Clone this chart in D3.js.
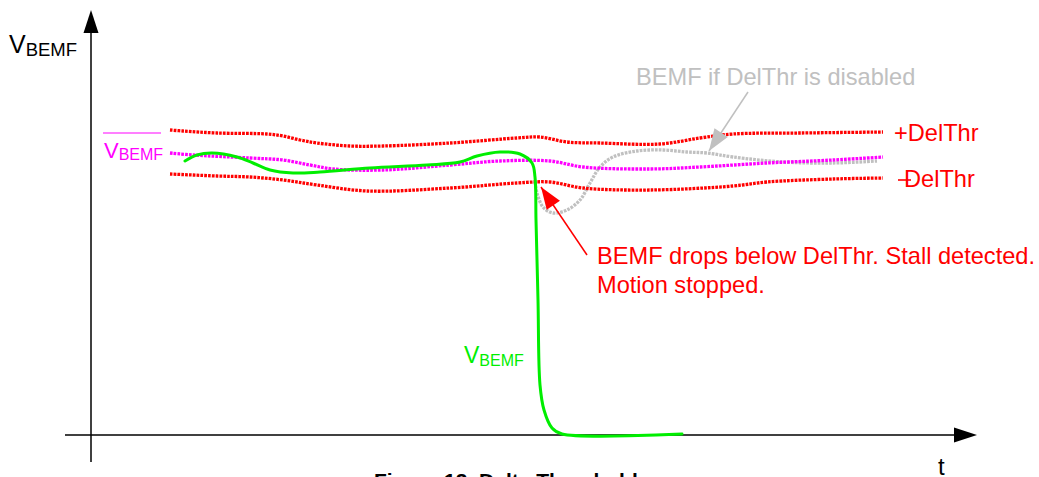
<!DOCTYPE html>
<html>
<head>
<meta charset="utf-8">
<script src="https://cdn.jsdelivr.net/npm/d3@7"></script>
<style>
  html, body { margin: 0; padding: 0; background: #fff; }
  svg { display: block; font-family: "Liberation Sans", Arial, Helvetica, sans-serif; }
</style>
</head>
<body>
<div id="chart"></div>
<script>
// Values are in diagram units: t = time, v = voltage (0 at the t axis).
const plusThr = [
  [79, 305], [92, 304], [126, 302], [176, 301], [192, 299], [209, 295], [226, 292],
  [259, 289], [292, 289], [359, 292], [426, 297], [449, 298], [476, 293], [509, 292],
  [569, 291], [609, 297], [642, 301], [709, 302], [792, 303]
];
const meanBemf = [
  [79, 282], [102, 280], [159, 277], [192, 275], [219, 270], [242, 266], [292, 265],
  [359, 270], [409, 274], [459, 274], [492, 268], [559, 266], [609, 268], [676, 272],
  [742, 275], [792, 278]
];
const minusThr = [
  [79, 261], [126, 259], [159, 258], [192, 255], [226, 250], [276, 244], [359, 247],
  [426, 252], [459, 253], [492, 247], [559, 245], [642, 249], [676, 253], [742, 256],
  [792, 257]
];
const bemf = [
  [94, 274], [106, 280], [121, 282], [146, 278], [162, 272], [179, 265], [202, 262],
  [229, 263], [279, 267], [336, 270], [369, 273], [386, 279], [409, 283], [429, 281],
  [441, 272], [444, 258], [445, 215], [447, 135], [449, 50], [453, 25], [461, 7],
  [471, 1], [591, 1]
];
const bemfDisabled = [
  [444, 253], [446, 242], [452, 228], [462, 222], [476, 225], [489, 235], [499, 252],
  [509, 268], [522, 278], [546, 284], [572, 285], [596, 283], [616, 282], [642, 278],
  [692, 273], [742, 272], [786, 274]
];
const stallArrow = { from: [496, 180], to: [450, 248] };
const disabledArrow = { from: [657, 343], to: [618, 284] };
const stallText = ["BEMF drops below DelThr. Stall detected.", "Motion stopped."];

const COLORS = {
  thr: "#ff0000",
  mean: "#ff00ff",
  bemf: "#00ee00",
  gray: "#c0c0c0",
  axis: "#000000",
};

const W = 1039, H = 477;

const x = d3.scaleLinear().domain([0, 880]).range([91, 971]);
const y = d3.scaleLinear().domain([0, 300]).range([435, 135]);

const svg = d3.select("#chart").append("svg")
  .attr("width", W).attr("height", H)
  .attr("viewBox", `0 0 ${W} ${H}`);

function arrowHead(g, from, to, len, half, color) {
  const [x1, y1] = from, [x2, y2] = to;
  const a = Math.atan2(y2 - y1, x2 - x1);
  const bx = x2 - len * Math.cos(a), by = y2 - len * Math.sin(a);
  const px = -Math.sin(a) * half, py = Math.cos(a) * half;
  g.append("path")
    .attr("d", `M${x2},${y2}L${bx + px},${by + py}L${bx - px},${by - py}Z`)
    .attr("fill", color);
}

// —— Axes ——
const axes = svg.append("g").attr("class", "axes");
axes.append("line")
  .attr("x1", x(0)).attr("x2", x(0))
  .attr("y1", y(-27)).attr("y2", y(402))
  .attr("stroke", COLORS.axis).attr("stroke-width", 1.5);
arrowHead(axes, [x(0), y(0)], [x(0), y(425)], 23, 7.5, COLORS.axis);

axes.append("line")
  .attr("x1", x(-26)).attr("x2", x(864))
  .attr("y1", y(0)).attr("y2", y(0))
  .attr("stroke", COLORS.axis).attr("stroke-width", 1.5);
arrowHead(axes, [x(0), y(0)], [x(886), y(0)], 23, 7.5, COLORS.axis);

// Axis labels
const yLab = svg.append("text").attr("x", 9).attr("y", 53).attr("fill", "#000");
yLab.append("tspan").attr("font-size", 25).text("V");
yLab.append("tspan").attr("font-size", 18.5).attr("dy", 3).text("BEMF");

svg.append("text")
  .attr("x", 938).attr("y", 475)
  .attr("font-size", 24)
  .text("t");

// —— Curves ——
const line = d3.line()
  .x((d) => x(d[0]))
  .y((d) => y(d[1]))
  .curve(d3.curveCatmullRom.alpha(0.5));

const dotted = [
  { data: bemfDisabled, color: COLORS.gray },
  { data: plusThr, color: COLORS.thr },
  { data: minusThr, color: COLORS.thr },
  { data: meanBemf, color: COLORS.mean },
];

svg.append("g").selectAll("path")
  .data(dotted)
  .join("path")
  .attr("d", (d) => line(d.data))
  .attr("fill", "none")
  .attr("stroke", (d) => d.color)
  .attr("stroke-width", 3.3)
  .attr("stroke-dasharray", "2.7,1.1");

svg.append("path")
  .datum(bemf)
  .attr("d", line)
  .attr("fill", "none")
  .attr("stroke", COLORS.bemf)
  .attr("stroke-width", 3)
  .attr("stroke-linecap", "round");

// —— Annotations ——
const ann = svg.append("g").attr("class", "annotations");

// stall arrow
ann.append("line")
  .attr("x1", x(stallArrow.from[0])).attr("y1", y(stallArrow.from[1]))
  .attr("x2", x(stallArrow.to[0])).attr("y2", y(stallArrow.to[1]))
  .attr("stroke", COLORS.thr).attr("stroke-width", 1.5);
arrowHead(ann,
  [x(stallArrow.from[0]), y(stallArrow.from[1])],
  [x(stallArrow.to[0]), y(stallArrow.to[1])], 22, 8, COLORS.thr);

// disabled arrow
ann.append("line")
  .attr("x1", x(disabledArrow.from[0])).attr("y1", y(disabledArrow.from[1]))
  .attr("x2", x(disabledArrow.to[0])).attr("y2", y(disabledArrow.to[1]))
  .attr("stroke", COLORS.gray).attr("stroke-width", 1.5);
arrowHead(ann,
  [x(disabledArrow.from[0]), y(disabledArrow.from[1])],
  [x(disabledArrow.to[0]), y(disabledArrow.to[1])], 22, 8, COLORS.gray);

ann.append("text")
  .attr("x", 636).attr("y", 85)
  .attr("font-size", 23.6)
  .attr("fill", COLORS.gray)
  .text("BEMF if DelThr is disabled");

ann.selectAll(".stall-text")
  .data(stallText)
  .join("text")
  .attr("class", "stall-text")
  .attr("x", 597)
  .attr("y", (_, i) => 264 + i * 29)
  .attr("font-size", 23.6)
  .attr("fill", COLORS.thr)
  .text((d) => d);

ann.append("text")
  .attr("x", 894).attr("y", 141)
  .attr("font-size", 23.6)
  .attr("fill", COLORS.thr)
  .text("+DelThr");

ann.append("line")
  .attr("x1", 898).attr("x2", 911)
  .attr("y1", 180).attr("y2", 180)
  .attr("stroke", COLORS.thr).attr("stroke-width", 1.6);
ann.append("text")
  .attr("x", 904).attr("y", 187)
  .attr("font-size", 23.6)
  .attr("fill", COLORS.thr)
  .text("DelThr");

// mean BEMF label with overline
ann.append("line")
  .attr("x1", 103).attr("x2", 161)
  .attr("y1", 133).attr("y2", 133)
  .attr("stroke", COLORS.mean).attr("stroke-width", 1.2);
const mLab = ann.append("text").attr("x", 104).attr("y", 158).attr("fill", COLORS.mean);
mLab.append("tspan").attr("font-size", 22).text("V");
mLab.append("tspan").attr("font-size", 16).attr("dy", 2).text("BEMF");

const gLab = ann.append("text").attr("x", 464).attr("y", 363).attr("fill", COLORS.bemf);
gLab.append("tspan").attr("font-size", 23).text("V");
gLab.append("tspan").attr("font-size", 16).attr("dy", 3).text("BEMF");

// caption (cut off at the bottom edge, as in the original figure)
svg.append("text")
  .attr("x", 374).attr("y", 488)
  .attr("font-size", 21)
  .attr("font-weight", "bold")
  .text("Figure 13. Delta Threshold");
</script>
</body>
</html>
